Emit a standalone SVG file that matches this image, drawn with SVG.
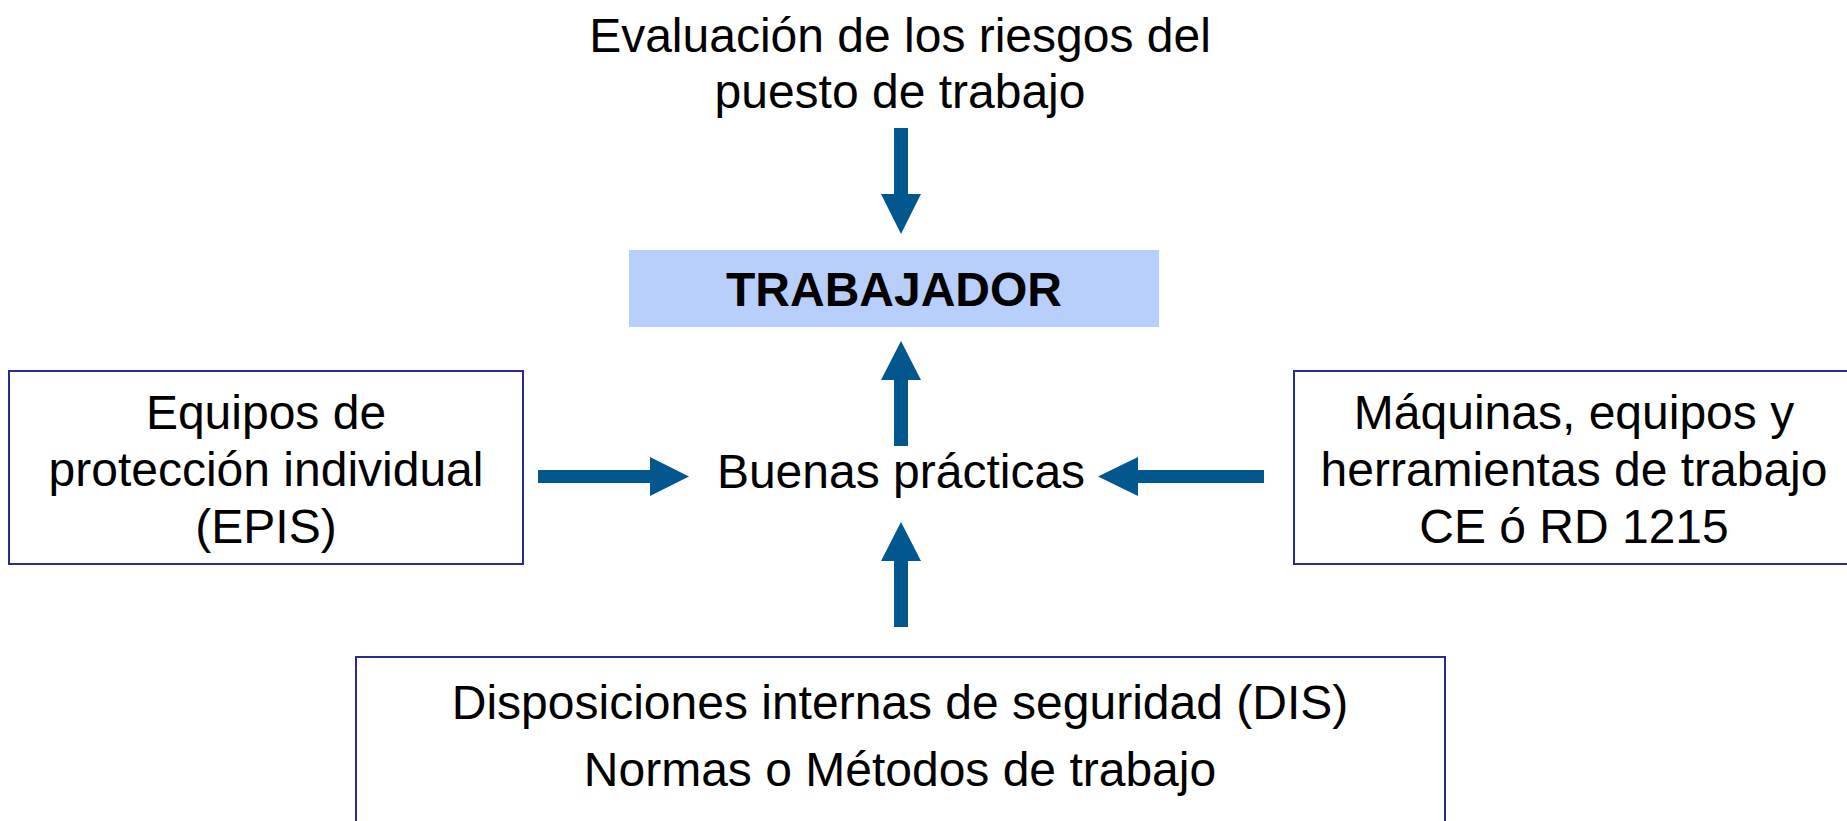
<svg xmlns="http://www.w3.org/2000/svg" width="1847" height="821" viewBox="0 0 1847 821">
<style>
  text { font-family: "Liberation Sans", Arial, sans-serif; font-size: 48px; fill: #000; text-anchor: middle; }
  .bold { font-weight: bold; }
  .box { fill: #ffffff; stroke: #2a2a96; stroke-width: 2; }
  .arrow { fill: #02578f; }
</style>
<rect width="1847" height="821" fill="#ffffff"/>

<g id="evaluacion">
  <text x="900" y="52">Evaluación de los riesgos del</text>
  <text x="900" y="108">puesto de trabajo</text>
</g>

<g id="trabajador">
  <rect x="629" y="250" width="530" height="77" fill="#b8cffb"/>
  <text class="bold" x="894" y="306">TRABAJADOR</text>
</g>

<g id="buenas">
  <text x="901" y="488">Buenas prácticas</text>
</g>

<g id="epis">
  <rect class="box" x="9" y="371" width="514" height="193" stroke="#10108a"/>
  <text x="266" y="429">Equipos de</text>
  <text x="266" y="486">protección individual</text>
  <text x="266" y="543">(EPIS)</text>
</g>

<g id="maquinas">
  <rect class="box" x="1294" y="371" width="562" height="193" stroke="#4a4aa6"/>
  <text x="1574" y="429">Máquinas, equipos y</text>
  <text x="1574" y="486">herramientas de trabajo</text>
  <text x="1574" y="543">CE ó RD 1215</text>
</g>

<g id="disposiciones">
  <rect class="box" x="356" y="657" width="1089" height="180" stroke="#4040a0"/>
  <text x="900" y="719">Disposiciones internas de seguridad (DIS)</text>
  <text x="900" y="786">Normas o Métodos de trabajo</text>
</g>

<g id="connectors">
  <!-- down arrow from evaluacion to trabajador -->
  <polygon class="arrow" points="894,128 908,128 908,194 921,194 901,234 881,194 894,194"/>
  <!-- up arrow from buenas to trabajador -->
  <polygon class="arrow" points="894,446 908,446 908,380 921,380 901,341 881,380 894,380"/>
  <!-- up arrow from disposiciones to buenas -->
  <polygon class="arrow" points="894,627 908,627 908,561 921,561 901,522 881,561 894,561"/>
  <!-- right arrow from epis to buenas -->
  <polygon class="arrow" points="538,470 650,470 650,457 689,476.5 650,496 650,483 538,483"/>
  <!-- left arrow from maquinas to buenas -->
  <polygon class="arrow" points="1264,470 1138,470 1138,457 1098,476.5 1138,496 1138,483 1264,483"/>
</g>
</svg>
